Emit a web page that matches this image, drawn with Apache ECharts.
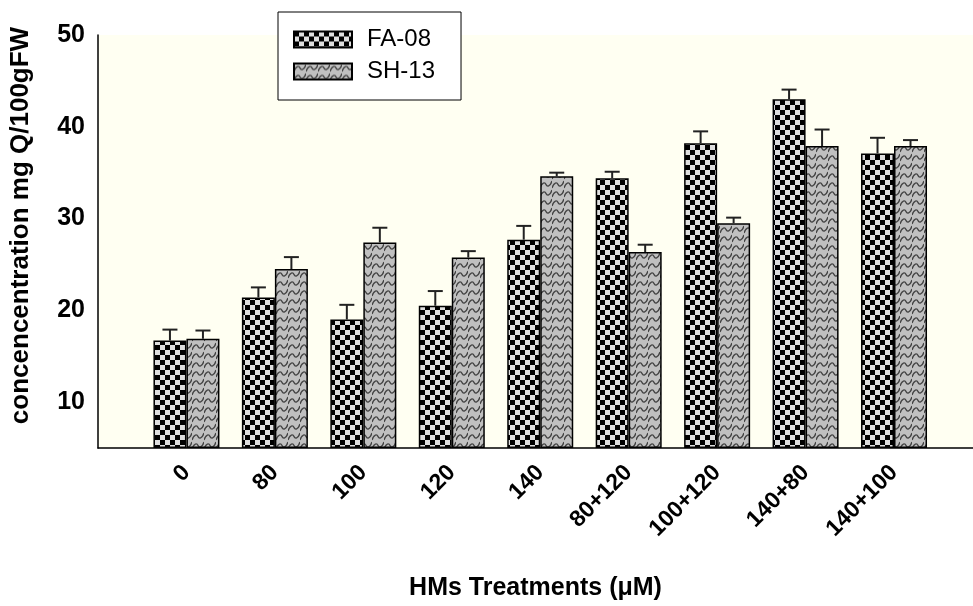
<!DOCTYPE html>
<html>
<head>
<meta charset="utf-8">
<script src="https://cdn.jsdelivr.net/npm/echarts@6/dist/echarts.min.js"></script>
<style>
  html, body { margin: 0; padding: 0; background: #fff; }
  #chart { width: 973px; height: 606px; }
</style>
</head>
<body>
<div id="chart"></div>
<script>
  // data
  const categories = ['0', '80', '100', '120', '140', '80+120', '100+120', '140+80', '140+100']
  const fa08 = [16.7, 21.4, 19.0, 20.5, 27.7, 34.4, 38.2, 43.0, 37.1]
  const fa08Err = [1.2, 1.1, 1.6, 1.6, 1.5, 0.7, 1.3, 1.05, 1.7]
  const sh13 = [16.9, 24.5, 27.4, 25.75, 34.6, 26.35, 29.5, 37.9, 37.9]
  const sh13Err = [0.9, 1.3, 1.6, 0.7, 0.4, 0.8, 0.6, 1.8, 0.65]
  const yMin = 5
  const yMax = 50

  const font = '"Liberation Sans", Arial, sans-serif'

  // checkerboard fill for FA-08
  function checkerPattern() {
    const c = document.createElement('canvas')
    c.width = 10
    c.height = 10
    const g = c.getContext('2d')
    g.fillStyle = '#dedede'
    g.fillRect(0, 0, 10, 10)
    g.fillStyle = '#000'
    g.fillRect(0, 0, 5, 5)
    g.fillRect(5, 5, 5, 5)
    return c
  }

  // grey wavy fill for SH-13
  function wavePattern() {
    const c = document.createElement('canvas')
    c.width = 12
    c.height = 9
    const g = c.getContext('2d')
    g.fillStyle = '#c0c0c0'
    g.fillRect(0, 0, 12, 9)
    g.strokeStyle = '#444'
    g.lineWidth = 1.4
    g.beginPath()
    g.moveTo(0, 8)
    g.bezierCurveTo(2, 2, 5, 2, 6, 4.5)
    g.bezierCurveTo(7, 7, 10, 7, 12, 1)
    g.stroke()
    return c
  }

  const barW = 33

  function errorSeries(name, values, errs, offset) {
    return {
      name: name,
      type: 'custom',
      z: 5,
      silent: true,
      data: values.map((v, i) => [i, v, errs[i]]),
      renderItem(params, api) {
        const x = api.value(0)
        const v = api.value(1)
        const e = api.value(2)
        const p0 = api.coord([x, v])
        const p1 = api.coord([x, v + e])
        const cx = p0[0] + offset
        const style = { stroke: '#222', lineWidth: 2 }
        return {
          type: 'group',
          children: [
            { type: 'line', shape: { x1: cx, y1: p0[1], x2: cx, y2: p1[1] }, style: style },
            { type: 'line', shape: { x1: cx - 7.5, y1: p1[1], x2: cx + 7.5, y2: p1[1] }, style: style }
          ]
        }
      }
    }
  }

  const chart = echarts.init(document.getElementById('chart'))
  chart.setOption({
    animation: false,
    textStyle: { fontFamily: font },
    grid: {
      left: 97,
      top: 35,
      right: 0,
      bottom: 151,
      show: true,
      backgroundColor: '#fffff2',
      borderWidth: 0
    },
    legend: {
      data: ['FA-08', 'SH-13'],
      orient: 'vertical',
      left: 278,
      top: 12,
      padding: [15, 26, 16, 15],
      itemGap: 7,
      itemWidth: 58,
      itemHeight: 16,
      icon: 'rect',
      backgroundColor: '#fff',
      borderColor: '#000',
      borderWidth: 1,
      textStyle: { fontSize: 24, lineHeight: 25, color: '#000', fontFamily: font, padding: [0, 0, 0, 10] }
    },
    xAxis: {
      type: 'value',
      min: -1,
      max: 8.893,
      interval: 1,
      name: 'HMs Treatments (μM)',
      nameLocation: 'middle',
      nameGap: 128,
      nameTextStyle: { fontSize: 25, fontWeight: 'bold', color: '#000', fontFamily: font },
      splitLine: { show: false },
      axisTick: { show: false },
      axisLine: { onZero: false, lineStyle: { color: '#000', width: 1.5 } },
      axisLabel: {
        rotate: 45,
        margin: 21,
        fontSize: 23,
        fontWeight: 'bold',
        color: '#000',
        fontFamily: font,
        showMaxLabel: false,
        formatter(v) {
          return categories[v] !== undefined ? categories[v] : ''
        }
      }
    },
    yAxis: {
      type: 'value',
      min: yMin,
      max: yMax,
      interval: 5,
      startValue: yMin,
      name: 'concencentration mg Q/100gFW',
      nameLocation: 'middle',
      nameGap: 64,
      nameTextStyle: { fontSize: 26, fontWeight: 'bold', color: '#000', fontFamily: font, padding: [0, 0, 0, 32] },
      splitLine: { show: false },
      axisTick: { show: false },
      axisLine: { show: true, onZero: false, lineStyle: { color: '#000', width: 1.5 } },
      axisLabel: {
        margin: 13,
        fontSize: 25,
        fontWeight: 'bold',
        color: '#000',
        fontFamily: font,
        formatter(v) {
          return v % 10 === 0 ? String(v) : ''
        }
      }
    },
    series: [
      {
        name: 'FA-08',
        type: 'bar',
        barWidth: barW,
        barGap: '0%',
        itemStyle: {
          color: { image: checkerPattern(), repeat: 'repeat' },
          borderColor: '#000',
          borderWidth: 1.5
        },
        data: fa08.map((v, i) => [i, v])
      },
      {
        name: 'SH-13',
        type: 'bar',
        barWidth: barW,
        barGap: '0%',
        itemStyle: {
          color: { image: wavePattern(), repeat: 'repeat' },
          borderColor: '#000',
          borderWidth: 1.5
        },
        data: sh13.map((v, i) => [i, v])
      },
      errorSeries('FA-08 err', fa08, fa08Err, -barW / 2),
      errorSeries('SH-13 err', sh13, sh13Err, barW / 2)
    ]
  })
</script>
</body>
</html>
